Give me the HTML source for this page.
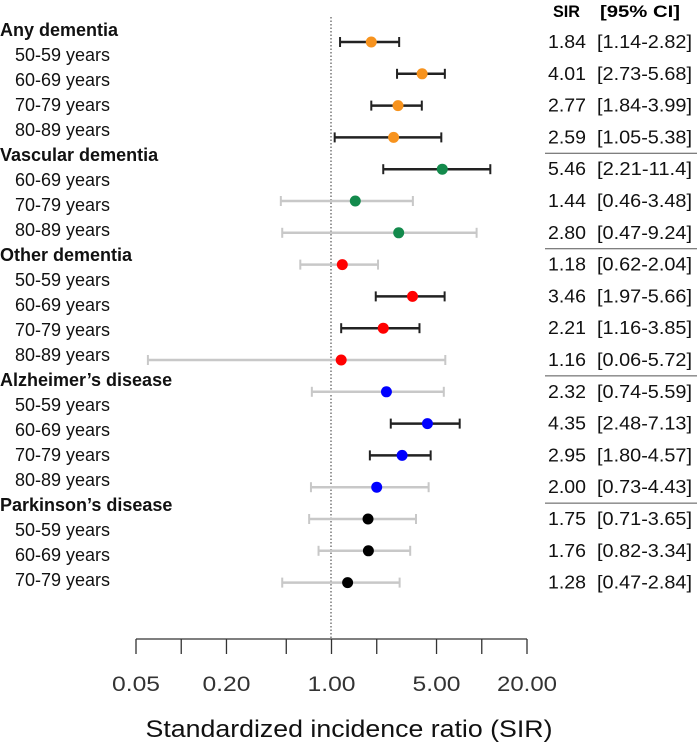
<!DOCTYPE html>
<html><head><meta charset="utf-8"><style>
html,body{margin:0;padding:0;background:#fff}
svg{display:block;font-family:"Liberation Sans",sans-serif}
</style></head><body>
<svg id="chart" width="700" height="743" viewBox="0 0 700 743">
<line x1="331" y1="17" x2="331" y2="639" stroke="#333" stroke-width="1" stroke-dasharray="1.5,2"/>
<g id="labels"></g>
<g id="marks"></g>
<g id="table">
<text x="553" y="17" font-size="17" font-weight="bold" textLength="27" lengthAdjust="spacingAndGlyphs">SIR</text>
<text x="600" y="17" font-size="17" font-weight="bold" textLength="80" lengthAdjust="spacingAndGlyphs">[95% CI]</text>
</g>
<g id="axis"></g>
<text x="349" y="743" dy="-6" font-size="24" text-anchor="middle" fill="#111" textLength="407" lengthAdjust="spacingAndGlyphs">Standardized incidence ratio (SIR)</text>
</svg>
<script>
const rowLabels = ["Any dementia","50-59 years","60-69 years","70-79 years","80-89 years","Vascular dementia","60-69 years","70-79 years","80-89 years","Other dementia","50-59 years","60-69 years","70-79 years","80-89 years","Alzheimer\u2019s disease","50-59 years","60-69 years","70-79 years","80-89 years","Parkinson\u2019s disease","50-59 years","60-69 years","70-79 years"];
const headerRows = [0,5,9,14,19];
const sirValues = [1.84,4.01,2.77,2.59,5.46,1.44,2.80,1.18,3.46,2.21,1.16,2.32,4.35,2.95,2.00,1.75,1.76,1.28];
const ciLower = [1.14,2.73,1.84,1.05,2.21,0.46,0.47,0.62,1.97,1.16,0.06,0.74,2.48,1.80,0.73,0.71,0.82,0.47];
const ciUpper = [2.82,5.68,3.99,5.38,11.4,3.48,9.24,2.04,5.66,3.85,5.72,5.59,7.13,4.57,4.43,3.65,3.34,2.84];
const ciText = ["[1.14-2.82]","[2.73-5.68]","[1.84-3.99]","[1.05-5.38]","[2.21-11.4]","[0.46-3.48]","[0.47-9.24]","[0.62-2.04]","[1.97-5.66]","[1.16-3.85]","[0.06-5.72]","[0.74-5.59]","[2.48-7.13]","[1.80-4.57]","[0.73-4.43]","[0.71-3.65]","[0.82-3.34]","[0.47-2.84]"];
const sirText = ["1.84","4.01","2.77","2.59","5.46","1.44","2.80","1.18","3.46","2.21","1.16","2.32","4.35","2.95","2.00","1.75","1.76","1.28"];
const groupColors = ["#f7931e","#f7931e","#f7931e","#f7931e","#138a4c","#138a4c","#138a4c","#ff0000","#ff0000","#ff0000","#ff0000","#0000ff","#0000ff","#0000ff","#0000ff","#000000","#000000","#000000"];
const separatorsAfter = [3,6,10,14];
const tickValues = [0.05,0.1,0.2,0.5,1,2,5,10,20];
const tickLabelValues = [0.05,0.2,1,5,20];
const tickLabels = ["0.05","0.20","1.00","5.00","20.00"];

const NS="http://www.w3.org/2000/svg";
const xMin=0.05,xMax=20,x0=136,x1=527;
function xScale(v){return x0+(Math.log10(v)-Math.log10(xMin))/(Math.log10(xMax)-Math.log10(xMin))*(x1-x0);}
function yRow(i){return 42+i*31.8;}
function yLabel(i){return 30+i*25;}
function mk(tag,attrs,parent){const e=document.createElementNS(NS,tag);for(const k in attrs)e.setAttribute(k,attrs[k]);parent.appendChild(e);return e;}

const gl=document.getElementById('labels');
rowLabels.forEach((t,i)=>{
  const h=headerRows.includes(i);
  const e=mk('text',{x:h?0:15,y:yLabel(i)+6,'font-size':h?18:18,'font-weight':h?'bold':'normal',fill:'#111'},gl);
  e.textContent=t;
  
  
});

const gm=document.getElementById('marks');
const gt=document.getElementById('table');
sirValues.forEach((v,i)=>{
  const y=yRow(i);
  const sig=ciLower[i]>1;
  const col=sig?'#222':'#c8c8c8';
  const lx=Math.max(xScale(ciLower[i]),x0-1),ux=xScale(ciUpper[i]);
  const g=mk('g',{},gm);
  
  
  const l=mk('line',{x1:lx,y1:y,x2:ux,y2:y,stroke:col,'stroke-width':2.5},g);
  
  
  [lx,ux].forEach(cx=>{
    const c=mk('line',{x1:cx,y1:y-5,x2:cx,y2:y+5,stroke:col,'stroke-width':2},g);
    
    
  });
  const p=mk('circle',{cx:xScale(v),cy:y,r:5.5,fill:groupColors[i]},g);
  
  
  const s=mk('text',{x:548,y:y+6,'font-size':18,fill:'#111',textLength:38,lengthAdjust:'spacingAndGlyphs'},gt);
  s.textContent=sirText[i];
  
  
  const c=mk('text',{x:597,y:y+6,'font-size':18,fill:'#111',textLength:95,lengthAdjust:'spacingAndGlyphs'},gt);
  c.textContent=ciText[i];
  
  
});
separatorsAfter.forEach(i=>{
  const y=(yRow(i)+yRow(i+1))/2;
  const l=mk('line',{x1:545,y1:y,x2:697,y2:y,stroke:'#555','stroke-width':1},gt);
  
  
});

const ga=document.getElementById('axis');
const al=mk('line',{x1:x0,y1:639,x2:x1,y2:639,stroke:'#333','stroke-width':1.3},ga);


tickValues.forEach(v=>{
  const t=mk('line',{x1:xScale(v),y1:639,x2:xScale(v),y2:654,stroke:'#333','stroke-width':1.3},ga);
  
  
});
tickLabelValues.forEach((v,i)=>{
  const t=mk('text',{x:xScale(v),y:691,'font-size':21,'text-anchor':'middle',fill:'#333',textLength:tickLabels[i].length*12,lengthAdjust:'spacingAndGlyphs'},ga);
  t.textContent=tickLabels[i];
  
  
});
</script>
</body></html>
